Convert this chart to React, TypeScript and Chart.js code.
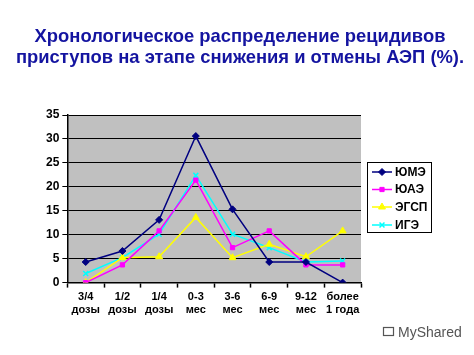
import React, { useEffect, useRef } from "react";
import { Chart, registerables } from "chart.js";
import { drawPoint } from "chart.js/helpers";

Chart.register(...registerables);

const titleLines = [
  "Хронологическое распределение рецидивов",
  "приступов на этапе снижения и отмены АЭП (%).",
];
const categories = [
  ["3/4", "дозы"],
  ["1/2", "дозы"],
  ["1/4", "дозы"],
  ["0-3", "мес"],
  ["3-6", "мес"],
  ["6-9", "мес"],
  ["9-12", "мес"],
  ["более", "1 года"],
];
const seriesNames = ["ЮМЭ", "ЮАЭ", "ЭГСП", "ИГЭ"];
const umeValues = [4.3, 6.6, 13.1, 30.6, 15.3, 4.3, 4.3, 0];
const uaeValues = [0, 3.7, 10.8, 21.4, 7.3, 10.8, 3.7, 3.7];
const egspValues = [0, 5.2, 5.4, 13.6, 5.2, 8, 5.4, 10.8];
const igeValues = [1.9, 5.2, 10.1, 22.4, 10.1, 7.3, 4.3, 4.5];
const yTicks = [0, 5, 10, 15, 20, 25, 30, 35];

const colors = ["#000080", "#FF00FF", "#FFFF00", "#00FFFF"];
const styles = ["rectRot", "rect", "triangle", "crossRot"];
const radii = [3.5, 3, 4, 3.5];

const FONT = "Arial";

const bgPlugin = {
  id: "bgPlugin",
  beforeDraw(chart: any) {
    const { ctx, chartArea } = chart;
    ctx.save();
    ctx.fillStyle = "#C0C0C0";
    ctx.fillRect(chartArea.left, chartArea.top, chartArea.right - chartArea.left, chartArea.bottom - chartArea.top);
    ctx.fillStyle = "#1414A0";
    ctx.font = `bold 18.4px ${FONT}`;
    ctx.textAlign = "center";
    ctx.textBaseline = "middle";
    ctx.fillText(titleLines[0], 240, 37);
    ctx.fillText(titleLines[1], 240, 58);
    ctx.restore();
  },
  afterDraw(chart: any) {
    const { ctx } = chart;
    ctx.save();
    const bx = 367, by = 162, bw = 64, bh = 70;
    ctx.fillStyle = "#FFFFFF";
    ctx.fillRect(bx, by, bw, bh);
    ctx.strokeStyle = "#000000";
    ctx.lineWidth = 1;
    ctx.strokeRect(bx + 0.5, by + 0.5, bw, bh);
    const ys = [172, 189.5, 207, 225];
    chart.data.datasets.forEach((ds: any, i: number) => {
      const y = ys[i];
      ctx.strokeStyle = ds.borderColor;
      ctx.lineWidth = 1.5;
      ctx.beginPath();
      ctx.moveTo(372, y);
      ctx.lineTo(392, y);
      ctx.stroke();
      ctx.fillStyle = ds.borderColor;
      ctx.lineWidth = ds.pointBorderWidth;
      drawPoint(ctx, { pointStyle: ds.pointStyle, radius: ds.pointRadius, borderWidth: ds.pointBorderWidth, rotation: 0 } as any, 382, y);
      ctx.fillStyle = "#000000";
      ctx.font = `bold 12px ${FONT}`;
      ctx.textBaseline = "middle";
      ctx.textAlign = "left";
      ctx.fillText(seriesNames[i], 395, y + 0.5);
    });
    ctx.fillStyle = "#555555";
    ctx.font = `14px ${FONT}`;
    ctx.textBaseline = "middle";
    ctx.fillText("MyShared", 398, 333);
    ctx.strokeStyle = "#555555";
    ctx.lineWidth = 1.2;
    ctx.strokeRect(383.5, 327.5, 10, 8);
    ctx.restore();
  },
};

export default function App() {
  const ref = useRef<HTMLCanvasElement>(null);
  useEffect(() => {
    if (!ref.current) return;
    const datasets = [umeValues, uaeValues, egspValues, igeValues].map((vals, i) => ({
      label: seriesNames[i],
      data: vals,
      borderColor: colors[i],
      backgroundColor: colors[i],
      pointBorderColor: colors[i],
      pointBackgroundColor: colors[i],
      pointStyle: styles[i],
      pointRadius: radii[i],
      pointBorderWidth: i === 3 ? 1.5 : 1,
      borderWidth: 1.5,
      tension: 0,
      fill: false,
    }));
    const chart = new Chart(ref.current, {
      type: "line",
      data: { labels: categories as any, datasets },
      plugins: [bgPlugin],
      options: {
        animation: false,
        responsive: false,
        layout: { padding: { left: 43, right: 113, top: 115, bottom: 35 } },
        plugins: {
          legend: { display: false },
          tooltip: { enabled: false },
          title: { display: false },
        },
        scales: {
          x: {
            offset: true,
            grid: { display: true, drawOnChartArea: false, offset: true, color: "#000", tickLength: 5, tickWidth: 1.5 },
            border: { color: "#000", width: 1.5 },
            ticks: { color: "#000", font: { family: FONT, size: 11, weight: "bold" }, maxRotation: 0, autoSkip: false, padding: 3 },
          },
          y: {
            min: 0,
            max: 35,
            afterBuildTicks: (s: any) => { s.ticks = yTicks.map((v) => ({ value: v })); },
            grid: { color: "#000", lineWidth: 1, tickLength: 5 },
            border: { color: "#000", width: 1.5 },
            ticks: { color: "#000", font: { family: FONT, size: 12, weight: "bold" }, padding: 3 },
          },
        },
      },
    });
    return () => chart.destroy();
  }, []);
  return <canvas ref={ref} width={474} height={355} style={{ display: "block", position: "absolute", left: 0, top: 0 }} />;
}
